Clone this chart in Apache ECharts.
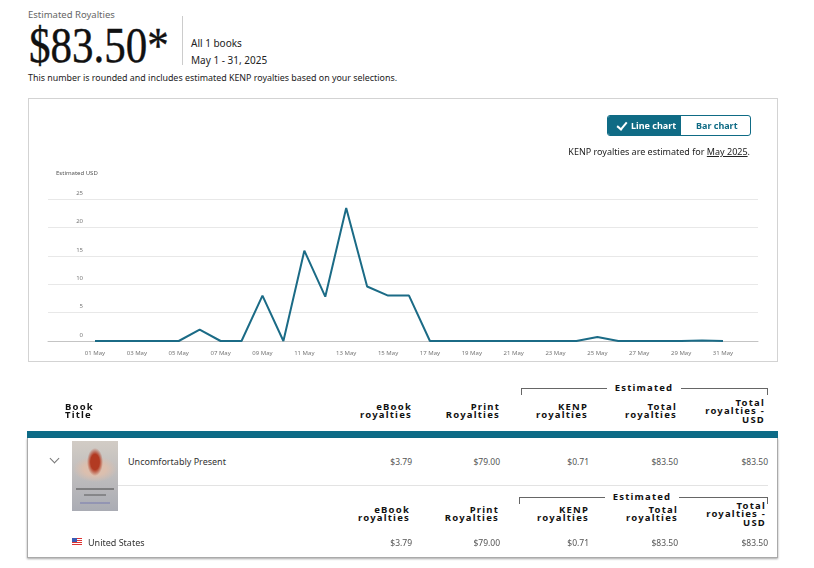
<!DOCTYPE html>
<html>
<head>
<meta charset="utf-8">
<title>Estimated Royalties</title>
<script src="https://cdn.jsdelivr.net/npm/echarts@6/dist/echarts.min.js"></script>
<style>
body{margin:0;width:814px;height:568px;background:#fff;position:relative;overflow:hidden;font-family:'Noto Sans',sans-serif;color:#222}
.a{position:absolute;white-space:nowrap}
.hd{position:absolute;white-space:pre;text-align:right;font-weight:bold;font-size:9.5px;line-height:8.4px;letter-spacing:1.2px;color:#111}
.v{position:absolute;text-align:right;font-size:8.5px;line-height:12px;color:#555;white-space:nowrap}
.br{position:absolute;height:7px;border:1px solid #666;border-bottom:none;box-sizing:border-box}
.est{position:absolute;width:74px;text-align:center;background:#fff;font-weight:bold;font-size:9.5px;line-height:11px;letter-spacing:1.2px;color:#111}
</style>
</head>
<body>
<div class="a" style="left:28px;top:9px;font-size:9.5px;line-height:12px;color:#666">Estimated Royalties</div>
<div class="a" style="left:29px;top:20px;font-family:'Liberation Serif',serif;font-size:50px;line-height:50px;color:#111;transform:scaleX(.86);transform-origin:left top;-webkit-text-stroke:0.4px #111">$83.50*</div>
<div class="a" style="left:182px;top:16px;width:1px;height:49px;background:#ccc"></div>
<div class="a" style="left:191px;top:37px;font-size:10px;line-height:13px;color:#222">All 1 books</div>
<div class="a" style="left:191px;top:53.5px;font-size:10px;line-height:13px;color:#222">May 1 - 31, 2025</div>
<div class="a" style="left:28px;top:72px;font-size:8.9px;line-height:12px;color:#222">This number is rounded and includes estimated KENP royalties based on your selections.</div>

<div class="a" style="left:28px;top:98px;width:750px;height:264px;border:1px solid #d3d3d3;box-sizing:border-box"></div>
<div id="main" class="a" style="left:0;top:0;width:814px;height:370px"></div>

<div class="a" style="left:607px;top:115px;width:144px;height:21px;border:1px solid #0f6b85;border-radius:3px;box-sizing:border-box;overflow:hidden">
  <div class="a" style="left:0;top:0;width:73px;height:21px;background:#0f6b85"></div>
  <div class="a" style="left:11px;top:4px;width:4px;height:8px;border-right:2px solid #fff;border-bottom:2px solid #fff;transform:rotate(40deg)"></div>
  <div class="a" style="left:23px;top:3.5px;font-size:9px;line-height:12px;font-weight:bold;color:#fff">Line chart</div>
  <div class="a" style="left:88px;top:3.5px;font-size:9px;line-height:12px;font-weight:bold;color:#0f6b85">Bar chart</div>
</div>
<div class="a" style="right:64px;top:146px;font-size:9px;line-height:12px;color:#222">KENP royalties are estimated for <span style="text-decoration:underline">May 2025</span>.</div>
<div class="a" style="left:56px;top:169.5px;font-size:6px;line-height:7px;color:#555">Estimated USD</div>

<div class="br" style="left:521px;top:388px;width:247px"></div>
<div class="est" style="left:607px;top:382px">Estimated</div>
<div class="hd" style="left:65px;top:403px;text-align:left">Book
Title</div>
<div id="head1"></div>

<div class="a" style="left:27px;top:431px;width:751px;height:7px;background:#0d6b87"></div>
<div class="a" style="left:27px;top:438px;width:751px;height:120px;border:1px solid #aaa;border-top:none;box-sizing:border-box;box-shadow:0 1px 2px rgba(0,0,0,.35)"></div>

<div class="a" style="left:51px;top:455px;width:6px;height:6px;border-right:1.5px solid #777;border-bottom:1.5px solid #777;transform:rotate(45deg)"></div>
<div class="a" style="left:72px;top:441px;width:46px;height:70px;background:radial-gradient(ellipse 8px 14px at 50% 30%,#b23a22 55%,rgba(178,58,34,0) 100%),radial-gradient(ellipse 22px 13px at 50% 40%,#dcbfae 50%,rgba(220,191,174,0) 100%),linear-gradient(#d2ccc5,#aaacb4)"></div>
<div class="a" style="left:76px;top:488px;width:38px;height:2px;background:#444;opacity:.5"></div>
<div class="a" style="left:84px;top:494px;width:22px;height:2px;background:#444;opacity:.4"></div>
<div class="a" style="left:80px;top:502px;width:30px;height:2px;background:#6a6fb0;opacity:.4"></div>
<div class="a" style="left:128px;top:456px;font-size:9px;line-height:12px;color:#333">Uncomfortably Present</div>
<div id="row1"></div>
<div class="a" style="left:118px;top:485px;width:650px;height:1px;background:#e3e3e3"></div>

<div class="br" style="left:519px;top:497px;width:249px"></div>
<div class="est" style="left:605px;top:491px">Estimated</div>
<div id="head2"></div>

<div class="a" style="left:72px;top:538px;width:10px;height:7px;background:repeating-linear-gradient(#d33 0 1px,#fff 1px 2px)"></div>
<div class="a" style="left:72px;top:538px;width:5px;height:4px;background:#3b5bb5"></div>
<div class="a" style="left:88px;top:537px;font-size:9px;line-height:12px;color:#333">United States</div>
<div id="row2"></div>

<script type="text/javascript">
// daily estimated royalties, May 2025
var days = ['01 May', '02 May', '03 May', '04 May', '05 May', '06 May', '07 May', '08 May',
    '09 May', '10 May', '11 May', '12 May', '13 May', '14 May', '15 May', '16 May',
    '17 May', '18 May', '19 May', '20 May', '21 May', '22 May', '23 May', '24 May',
    '25 May', '26 May', '27 May', '28 May', '29 May', '30 May', '31 May'];
var usd = [0, 0, 0, 0, 0, 2, 0, 0, 8, 0, 15.9, 7.8, 23.4, 9.6, 8, 8,
    0, 0, 0, 0, 0, 0, 0, 0, 0.71, 0, 0, 0, 0, 0.1, 0];

// table
var colHeads = ['eBook\nroyalties', 'Print\nRoyalties', 'KENP\nroyalties', 'Total\nroyalties', 'Total\nroyalties -\nUSD'];
var bookRow = ['$3.79', '$79.00', '$0.71', '$83.50', '$83.50'];
var countryRow = ['$3.79', '$79.00', '$0.71', '$83.50', '$83.50'];

var colRight1 = [412, 500, 588, 677, 765];
var colRight2 = [410, 499, 589, 678, 766];
var valRight = [412, 500, 589, 678, 768];

function put(id, items, rights, cls, tops) {
    var box = document.getElementById(id);
    items.forEach(function (t, i) {
        var d = document.createElement('div');
        d.className = cls;
        d.textContent = t;
        d.style.right = (814 - rights[i]) + 'px';
        d.style.top = (typeof tops === 'function' ? tops(t) : tops) + 'px';
        box.appendChild(d);
    });
}
put('head1', colHeads, colRight1, 'hd', function (t) { return t.split('\n').length > 2 ? 399 : 403; });
put('head2', colHeads, colRight2, 'hd', function (t) { return t.split('\n').length > 2 ? 502 : 506; });
put('row1', bookRow, valRight, 'v', 456);
put('row2', countryRow, valRight, 'v', 537);

var chart = echarts.init(document.getElementById('main'));
var option = {
    animation: false,
    textStyle: { fontFamily: 'Noto Sans' },
    grid: [
        { left: 48, width: 710, top: 199, height: 142 },
        { left: 95, width: 628, top: 199, height: 142 }
    ],
    xAxis: [{
        gridIndex: 0,
        type: 'value',
        min: 0,
        max: 1,
        axisLine: { show: true, lineStyle: { color: '#c4c4c4', width: 1 } },
        axisTick: { show: false },
        axisLabel: { show: false },
        splitLine: { show: false }
    }, {
        gridIndex: 1,
        type: 'category',
        data: days,
        boundaryGap: false,
        axisLine: { show: false },
        axisTick: { show: false },
        axisLabel: { interval: 1, fontSize: 6, color: '#777', margin: 9 }
    }],
    yAxis: [{
        gridIndex: 0,
        type: 'value',
        min: 0,
        max: 25,
        interval: 5,
        axisLine: { show: false },
        axisTick: { show: false },
        splitLine: { lineStyle: { color: '#e8e8e8', width: 1 } },
        axisLabel: {
            inside: true,
            margin: 35,
            align: 'right',
            verticalAlign: 'bottom',
            padding: [0, 0, 3, 0],
            fontSize: 6,
            color: '#777'
        }
    }, {
        gridIndex: 1,
        type: 'value',
        min: 0,
        max: 25,
        show: false
    }],
    series: [{
        type: 'line',
        xAxisIndex: 1,
        yAxisIndex: 1,
        data: usd,
        symbol: 'none',
        lineStyle: { color: '#1b6b86', width: 2 }
    }]
};
chart.setOption(option);
</script>
</body>
</html>
